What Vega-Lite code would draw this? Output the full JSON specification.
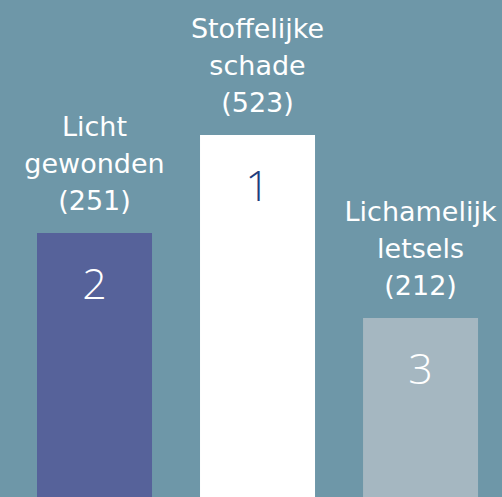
{
  "$schema": "https://vega.github.io/schema/vega-lite/v6.json",
  "width": 502,
  "height": 497,
  "padding": 0,
  "autosize": {"type": "none"},
  "background": "#6e97a8",
  "view": {"stroke": null},
  "data": {"values": [
    {"categorie": "Licht gewonden", "aantal": 251, "rang": 2, "podium": 264, "label": "Licht\ngewonden\n(251)"},
    {"categorie": "Stoffelijke schade", "aantal": 523, "rang": 1, "podium": 362, "label": "Stoffelijke\nschade\n(523)"},
    {"categorie": "Lichamelijk letsels", "aantal": 212, "rang": 3, "podium": 179, "label": "Lichamelijk\nletsels\n(212)"}
  ]},
  "encoding": {
    "x": {"field": "categorie", "type": "nominal", "sort": null, "axis": null,
          "scale": {"paddingInner": 0.2945, "paddingOuter": 0.187, "align": 0.607}},
    "y": {"field": "podium", "type": "quantitative", "axis": null,
          "scale": {"domain": [0, 497], "nice": false, "zero": true}}
  },
  "layer": [
    {
      "mark": {"type": "bar"},
      "encoding": {
        "color": {"field": "categorie", "type": "nominal", "legend": null,
                  "scale": {"domain": ["Licht gewonden", "Stoffelijke schade", "Lichamelijk letsels"],
                            "range": ["#56629a", "#ffffff", "#a5b7c1"]}}
      }
    },
    {
      "mark": {"type": "text", "baseline": "alphabetic", "dy": -97, "lineBreak": "\n", "lineHeight": 37,
               "fontSize": 27, "font": "DejaVu Sans", "color": "#ffffff"},
      "encoding": {"text": {"field": "label"}}
    },
    {
      "mark": {"type": "text", "baseline": "alphabetic", "dy": 66, "fontSize": 43, "font": "Open Sans", "fontWeight": 300},
      "encoding": {
        "text": {"field": "rang"},
        "color": {"condition": {"test": "datum.rang === 1", "value": "#1f3d7d"}, "value": "#ffffff"}
      }
    }
  ]
}
